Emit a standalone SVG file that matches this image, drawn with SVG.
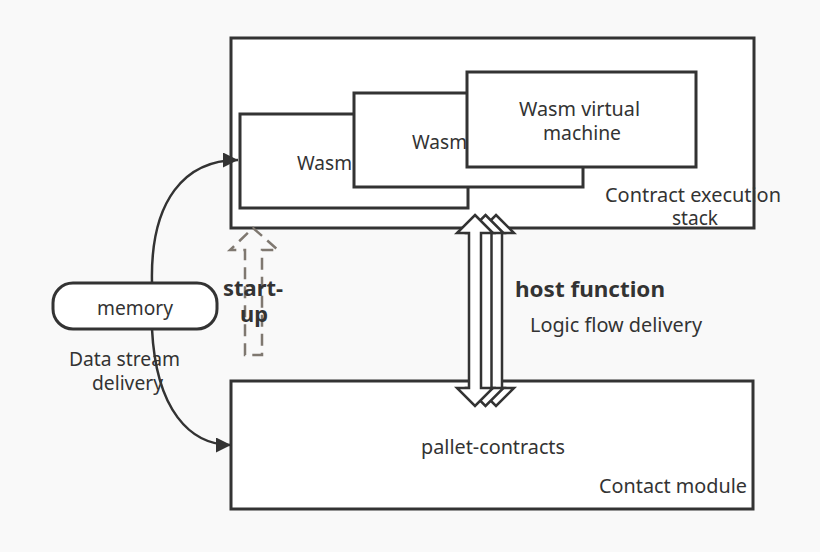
<svg xmlns="http://www.w3.org/2000/svg" width="820" height="552" viewBox="0 0 820 552">
<defs>
<style>
.bx{fill:#fff;stroke:#333;stroke-width:3}
.t{font-family:"Noto Sans","Open Sans","Liberation Sans",sans-serif;font-size:19.5px;fill:#333}
.b{font-family:"Noto Sans","Open Sans","Liberation Sans",sans-serif;font-size:22px;font-weight:bold;fill:#333}
.c{fill:none;stroke:#333;stroke-width:2.5}
.blk{fill:#fff;stroke:#333;stroke-width:2.5;stroke-linejoin:miter}
</style>
<marker id="ah" viewBox="0 0 10 10" refX="10" refY="5" markerWidth="7" markerHeight="6" markerUnits="strokeWidth" orient="auto">
<path d="M0,0 L10,5 L0,10 Z" fill="#333"/>
</marker>
</defs>
<rect width="820" height="552" fill="#f9f9f9"/>
<g id="exec-stack">
<rect x="231" y="38" width="523" height="190" fill="#fff"/>
<text class="t" x="605" y="202" textLength="176" lengthAdjust="spacingAndGlyphs">Contract execution</text>
<text class="t" x="672" y="225" textLength="46" lengthAdjust="spacingAndGlyphs">stack</text>
<rect x="231" y="38" width="523" height="190" fill="none" stroke="#333" stroke-width="3"/>
</g>
<g id="wasm1">
<rect class="bx" x="240" y="114" width="228" height="94"/>
<text class="t" x="297" y="170" textLength="55" lengthAdjust="spacingAndGlyphs">Wasm</text>
</g>
<g id="wasm2">
<rect class="bx" x="354" y="93" width="229" height="94"/>
<text class="t" x="412" y="149" textLength="55" lengthAdjust="spacingAndGlyphs">Wasm</text>
</g>
<g id="wasm3">
<rect class="bx" x="467" y="72" width="229" height="95"/>
<text class="t" x="519" y="116" textLength="121" lengthAdjust="spacingAndGlyphs">Wasm virtual</text>
<text class="t" x="543" y="140" textLength="78" lengthAdjust="spacingAndGlyphs">machine</text>
</g>
<g id="contract-module">
<rect class="bx" x="231" y="381" width="522" height="128"/>
<text class="t" x="421" y="454" textLength="144" lengthAdjust="spacingAndGlyphs">pallet-contracts</text>
<text class="t" x="599" y="493" textLength="148" lengthAdjust="spacingAndGlyphs">Contact module</text>
</g>
<g id="memory">
<rect class="bx" x="53" y="283" width="164" height="46" rx="20" ry="20" stroke-width="2.5"/>
<text class="t" x="97" y="315" textLength="76" lengthAdjust="spacingAndGlyphs">memory</text>
</g>
<g id="connectors">
<path class="c" d="M152,283 C150,200 185,160 238,160" marker-end="url(#ah)"/>
<path class="c" d="M152,329 C156,410 190,445 231,445" marker-end="url(#ah)"/>
<polygon points="253,228 278,250 262,250 262,355 245,355 245,250 230,250" fill="none" stroke="#7f7870" stroke-width="2.5" stroke-dasharray="12,7"/>
<polygon class="blk" points="496,215 514,233 502,233 502,388 514,388 496,406 478,388 490,388 490,233 478,233"/>
<polygon class="blk" points="485.5,215 503.5,233 491.5,233 491.5,388 503.5,388 485.5,406 467.5,388 479.5,388 479.5,233 467.5,233"/>
<polygon class="blk" points="475,215 493,233 481,233 481,388 493,388 475,406 457,388 469,388 469,233 457,233"/>
</g>
<g id="labels">
<text class="t" x="69" y="366" textLength="111" lengthAdjust="spacingAndGlyphs">Data stream</text>
<text class="t" x="92" y="390" textLength="71" lengthAdjust="spacingAndGlyphs">delivery</text>
<text class="b" x="223" y="296" textLength="60" lengthAdjust="spacingAndGlyphs">start-</text>
<text class="b" x="240" y="322" textLength="28" lengthAdjust="spacingAndGlyphs">up</text>
<text class="b" x="515" y="297" textLength="150" lengthAdjust="spacingAndGlyphs">host function</text>
<text class="t" x="530" y="332" textLength="172" lengthAdjust="spacingAndGlyphs">Logic flow delivery</text>
</g>
</svg>
